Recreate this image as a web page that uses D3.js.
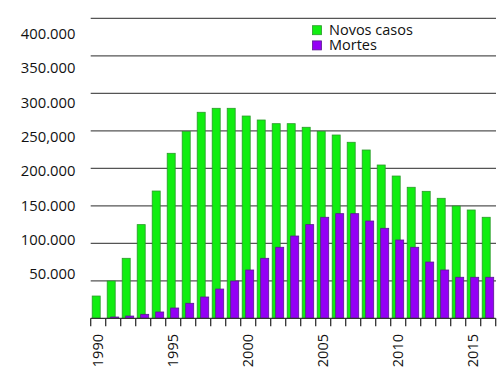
<!DOCTYPE html>
<html>
<head>
<meta charset="utf-8">
<script src="https://cdn.jsdelivr.net/npm/d3@7"></script>
<style>
body { margin: 0; background: #fff; }
svg { font-family: "Open Sans", sans-serif; }
</style>
</head>
<body>
<svg width="500" height="375"></svg>
<script>
var years = d3.range(1990, 2017);
var newCases = [29700, 49700, 80000, 124900, 169700, 220000, 249000, 274700, 280000, 280000,
    269700, 264400, 259500, 259500, 254700, 249300, 244400, 234700, 224400, 204400,
    189700, 174700, 169300, 160000, 149700, 144400, 134700];
var deaths = [0, 1700, 3000, 5300, 8400, 13700, 20000, 28400, 39000, 49700,
    64400, 80000, 94700, 109700, 124900, 134700, 139500, 139500, 129700, 120000,
    104400, 94700, 75000, 64400, 54700, 54700, 54700];
var yTicks = [50000, 100000, 150000, 200000, 250000, 300000, 350000, 400000];
var yTickLabels = ["50.000", "100.000", "150.000", "200.000", "250,000", "300.000", "350.000", "400.000"];
var legendLabels = ["Novos casos", "Mortes"];

var svg = d3.select("svg");
var plotLeft = 90.7, plotRight = 495.7, plotBottom = 318.3, plotTop = 18.3;

var x = d3.scaleBand()
    .domain(years)
    .range([plotLeft, plotRight]);

var y = d3.scaleLinear()
    .domain([0, 400000])
    .range([plotBottom, plotTop]);

// the labels in the original sit a little off their grid lines
var yLabel = d3.scaleLinear()
    .domain([50000, 400000])
    .range([274, 34]);

// grid lines
svg.append("g")
    .selectAll("line")
    .data(yTicks)
    .enter()
    .append("line")
    .attr("x1", plotLeft)
    .attr("x2", 496)
    .attr("y1", function(d) { return y(d); })
    .attr("y2", function(d) { return y(d); })
    .attr("stroke", "#555")
    .attr("stroke-width", 1.3);

svg.append("g")
    .selectAll("text")
    .data(yTicks)
    .enter()
    .append("text")
    .attr("x", 75.5)
    .attr("y", function(d) { return yLabel(d); })
    .attr("dy", "0.35em")
    .attr("text-anchor", "end")
    .attr("font-size", 14.8)
    .attr("fill", "#111")
    .text(function(d, i) { return yTickLabels[i]; });

var bw = 8;

svg.append("g")
    .selectAll("rect")
    .data(newCases)
    .enter()
    .append("rect")
    .attr("x", function(d, i) { return x(years[i]) + 1.5; })
    .attr("y", function(d) { return y(d); })
    .attr("width", bw)
    .attr("height", function(d) { return plotBottom - y(d); })
    .attr("fill", "#11ee11")
    .attr("stroke", "#2a9a2a")
    .attr("stroke-width", 0.8);

svg.append("g")
    .selectAll("rect")
    .data(deaths)
    .enter()
    .append("rect")
    .attr("x", function(d, i) { return x(years[i]) + 5; })
    .attr("y", function(d) { return y(d); })
    .attr("width", bw)
    .attr("height", function(d) { return plotBottom - y(d); })
    .attr("fill", "#9400f5")
    .attr("stroke", "#5a1a90")
    .attr("stroke-width", 0.8);

// x axis: baseline and ticks on the band edges
var gx = svg.append("g")
    .attr("transform", "translate(0," + plotBottom + ")");

gx.append("line")
    .attr("x1", plotLeft)
    .attr("x2", plotRight)
    .attr("stroke", "#333")
    .attr("stroke-width", 1.3);

gx.selectAll(".edge")
    .data(years.concat([2017]))
    .enter()
    .append("line")
    .attr("x1", function(d) { return plotLeft + (d - 1990) * x.step(); })
    .attr("x2", function(d) { return plotLeft + (d - 1990) * x.step(); })
    .attr("y1", 0)
    .attr("y2", 8)
    .attr("stroke", "#333")
    .attr("stroke-width", 1.3);

svg.append("g")
    .selectAll("text")
    .data(years.filter(function(d) { return d % 5 === 0; }))
    .enter()
    .append("text")
    .attr("transform", function(d) {
        return "translate(" + (x(d) + x.bandwidth() / 2 - 0.5) + ",334) rotate(-90)";
    })
    .attr("dy", "0.35em")
    .attr("text-anchor", "end")
    .attr("font-size", 14.5)
    .attr("fill", "#111")
    .text(function(d) { return d; });

// legend
var legend = svg.append("g")
    .attr("transform", "translate(312.5,25.7)");

legend.selectAll("rect")
    .data(legendLabels)
    .enter()
    .append("rect")
    .attr("x", 0)
    .attr("y", function(d, i) { return i * 15.2; })
    .attr("width", 9)
    .attr("height", 9)
    .attr("fill", function(d, i) { return i === 0 ? "#11ee11" : "#9400f5"; })
    .attr("stroke", function(d, i) { return i === 0 ? "#2a9a2a" : "#5a1a90"; })
    .attr("stroke-width", 0.8);

legend.selectAll("text")
    .data(legendLabels)
    .enter()
    .append("text")
    .attr("x", 16.5)
    .attr("y", function(d, i) { return 9.5 + i * 15.2; })
    .attr("font-size", 14.5)
    .attr("fill", "#111")
    .text(function(d) { return d; });
</script>
</body>
</html>
